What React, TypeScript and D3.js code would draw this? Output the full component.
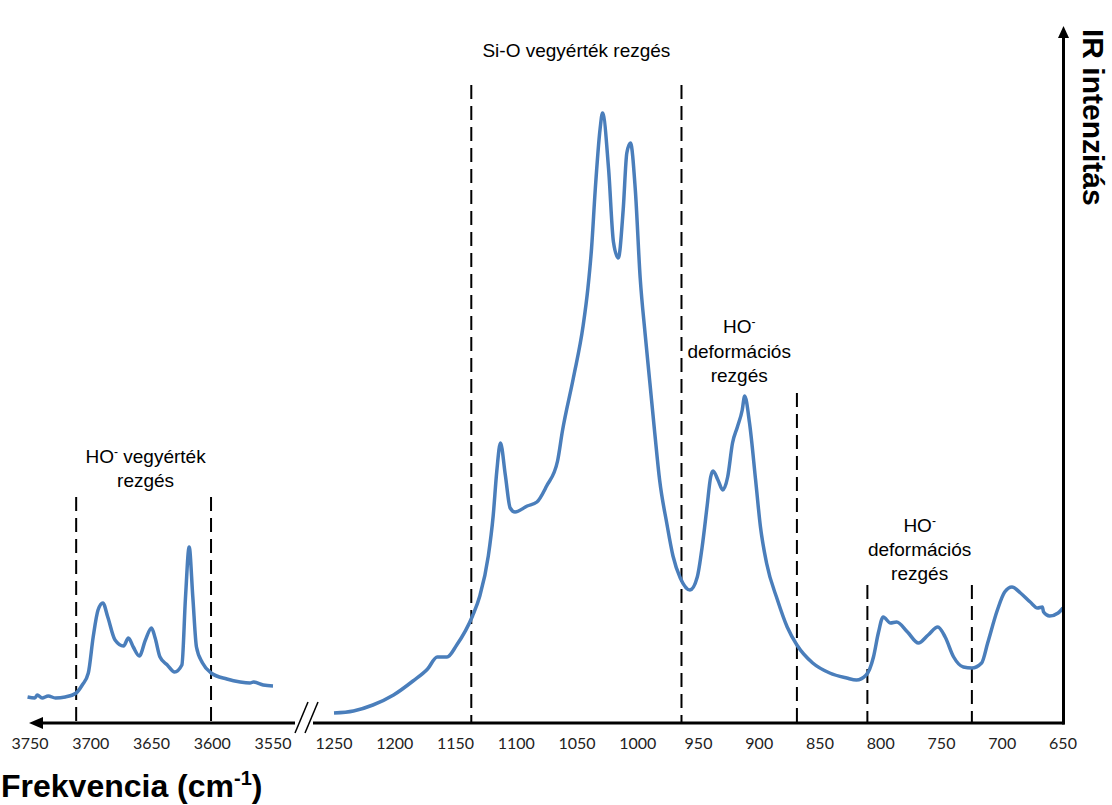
import React from "react";
import * as d3 from "d3";

// wavenumber (cm-1) and intensity (a.u.)
const ohStretchWn = [3752, 3746, 3744, 3740, 3735, 3729, 3721, 3712, 3707, 3702, 3698, 3694, 3690, 3686, 3680, 3673, 3669, 3665, 3660, 3655, 3650, 3647, 3643, 3637, 3631, 3625, 3622, 3619, 3616, 3613, 3608, 3601, 3588, 3577, 3569, 3566, 3558, 3550];
const ohStretchInt = [26, 25, 28, 25, 27, 25, 26, 30, 38, 50, 86, 113, 120, 106, 83, 77, 85, 76, 67, 83, 95, 85, 66, 58, 51, 58, 126, 176, 126, 76, 60, 50, 44, 41, 40, 41, 38, 37];

const mainWn = [1250, 1234, 1218, 1201, 1185, 1173, 1165, 1157, 1149, 1136, 1130, 1123, 1119, 1116, 1113, 1109, 1105, 1101, 1091, 1083, 1075, 1066, 1062, 1053, 1045, 1041, 1038, 1035, 1031, 1029, 1024, 1020, 1016, 1012, 1009, 1006, 1002, 998, 994, 990, 986, 982, 976, 971, 965, 957, 951, 947, 943, 940, 938, 934, 930, 926, 922, 918, 914, 912, 908, 903, 899, 894, 885, 877, 869, 856, 842, 828, 820, 812, 806, 802, 798, 792, 787, 778, 769, 761, 753, 747, 740, 732, 725, 717, 712, 704, 698, 692, 685, 677, 671, 667, 666, 661, 654, 650];
const mainInt = [10, 12, 18, 28, 42, 54, 66, 66, 78, 107, 127, 167, 207, 252, 280, 248, 215, 211, 217, 221, 237, 262, 292, 345, 397, 435, 475, 533, 594, 610, 554, 481, 465, 513, 570, 580, 533, 445, 390, 340, 290, 243, 199, 167, 145, 133, 146, 176, 216, 246, 252, 243, 233, 246, 280, 296, 313, 327, 300, 243, 196, 160, 123, 96, 78, 60, 50, 45, 43, 48, 66, 90, 106, 100, 101, 91, 80, 88, 96, 86, 66, 56, 55, 60, 80, 113, 131, 136, 130, 121, 115, 116, 111, 107, 110, 115];

const leftTicks = [3750, 3700, 3650, 3600, 3550];
const rightTicks = [1250, 1200, 1150, 1100, 1050, 1000, 950, 900, 850, 800, 750, 700, 650];

// band boundaries (cm-1) and the intensity where each dashed line starts
const leftBounds = [3712, 3601];
const leftBoundTop = [226, 226];
const rightBounds = [1137, 964, 869, 811, 725];
const rightBoundTop = [638, 638, 330, 138, 138];

const BLUE = "#4a7ebb";
const SANS = "'Liberation Sans', Arial, sans-serif";

function HOLabel({ x, y, rest }: { x: number; y: number; rest: string }) {
  return (
    <text x={x} y={y} textAnchor="middle" fontFamily={SANS} fontSize={19}>
      HO
      <tspan fontSize={12} dy={-7}>-</tspan>
      <tspan dy={7}>{rest}</tspan>
    </text>
  );
}

export default function App() {
  const width = 1112;
  const height = 805;
  const axisY = 723;

  const xLeft = d3.scaleLinear().domain([3750, 3550]).range([30, 273]);
  const xRight = d3.scaleLinear().domain([1250, 650]).range([334, 1063]);
  const y = d3.scaleLinear().domain([0, 700]).range([axisY, 23]);

  const leftPts = ohStretchWn.map((w, i) => [xLeft(w), y(ohStretchInt[i])] as [number, number]);
  const rightPts = mainWn.map((w, i) => [xRight(w), y(mainInt[i])] as [number, number]);
  const line = d3.line().curve(d3.curveMonotoneX);

  const lb = leftBounds.map((w) => xLeft(w));
  const rb = rightBounds.map((w) => xRight(w));

  return (
    <svg
      width={width}
      height={height}
      style={{ position: "absolute", left: 0, top: 0, background: "#fff" }}
    >
      {/* band boundaries */}
      {leftBounds.map((w, i) => (
        <line key={"l" + w} x1={xLeft(w)} x2={xLeft(w)} y1={y(leftBoundTop[i])} y2={axisY}
          stroke="#000" strokeWidth={2} strokeDasharray="14,7" />
      ))}
      {rightBounds.map((w, i) => (
        <line key={"r" + w} x1={xRight(w)} x2={xRight(w)} y1={y(rightBoundTop[i])} y2={axisY}
          stroke="#000" strokeWidth={2} strokeDasharray="14,7" />
      ))}

      {/* spectrum */}
      <path d={line(leftPts) || ""} fill="none" stroke={BLUE} strokeWidth={3.5} strokeLinejoin="round" />
      <path d={line(rightPts) || ""} fill="none" stroke={BLUE} strokeWidth={3.5} strokeLinejoin="round" />

      {/* x axis with break */}
      <line x1={40} x2={295} y1={axisY} y2={axisY} stroke="#000" strokeWidth={3} />
      <polygon points={`29,${axisY} 43,${axisY - 6} 43,${axisY + 6}`} fill="#000" />
      <line x1={313} x2={1064.5} y1={axisY} y2={axisY} stroke="#000" strokeWidth={3} />
      <line x1={295} y1={733} x2={308} y2={702} stroke="#000" strokeWidth={1.5} />
      <line x1={305} y1={733} x2={318} y2={702} stroke="#000" strokeWidth={1.5} />

      {/* y axis */}
      <line x1={1063.5} x2={1063.5} y1={36} y2={axisY + 1.5} stroke="#000" strokeWidth={3} />
      <polygon points={`1063.5,26 1058,38 1069,38`} fill="#000" />

      {/* tick labels */}
      <g fontFamily="Lato, 'Open Sans', sans-serif" fontSize={16} fill="#222" textAnchor="middle">
        {leftTicks.map((t) => (
          <text key={t} x={xLeft(t)} y={749}>{t}</text>
        ))}
        {rightTicks.map((t) => (
          <text key={t} x={xRight(t)} y={749}>{t}</text>
        ))}
      </g>

      {/* band annotations */}
      <text x={(rb[0] + rb[1]) / 2} y={57} textAnchor="middle" fontFamily={SANS} fontSize={19}>
        Si-O vegyérték rezgés
      </text>
      <HOLabel x={(rb[1] + rb[2]) / 2} y={333} rest="" />
      <text x={(rb[1] + rb[2]) / 2} y={358} textAnchor="middle" fontFamily={SANS} fontSize={19}>deformációs</text>
      <text x={(rb[1] + rb[2]) / 2} y={382} textAnchor="middle" fontFamily={SANS} fontSize={19}>rezgés</text>

      <HOLabel x={(rb[3] + rb[4]) / 2} y={532} rest="" />
      <text x={(rb[3] + rb[4]) / 2} y={556} textAnchor="middle" fontFamily={SANS} fontSize={19}>deformációs</text>
      <text x={(rb[3] + rb[4]) / 2} y={580} textAnchor="middle" fontFamily={SANS} fontSize={19}>rezgés</text>

      <HOLabel x={(lb[0] + lb[1]) / 2 + 2} y={463} rest=" vegyérték" />
      <text x={(lb[0] + lb[1]) / 2 + 2} y={487} textAnchor="middle" fontFamily={SANS} fontSize={19}>rezgés</text>

      {/* axis titles */}
      <text x={1} y={797} fontFamily={SANS} fontWeight="bold" fontSize={32}>
        Frekvencia (cm
        <tspan fontSize={20} dy={-12}>-1</tspan>
        <tspan dy={12}>)</tspan>
      </text>
      <text
        transform="translate(1083,29) rotate(90)"
        fontFamily={SANS}
        fontWeight="bold"
        fontSize={30}
      >
        IR intenzitás
      </text>
    </svg>
  );
}
